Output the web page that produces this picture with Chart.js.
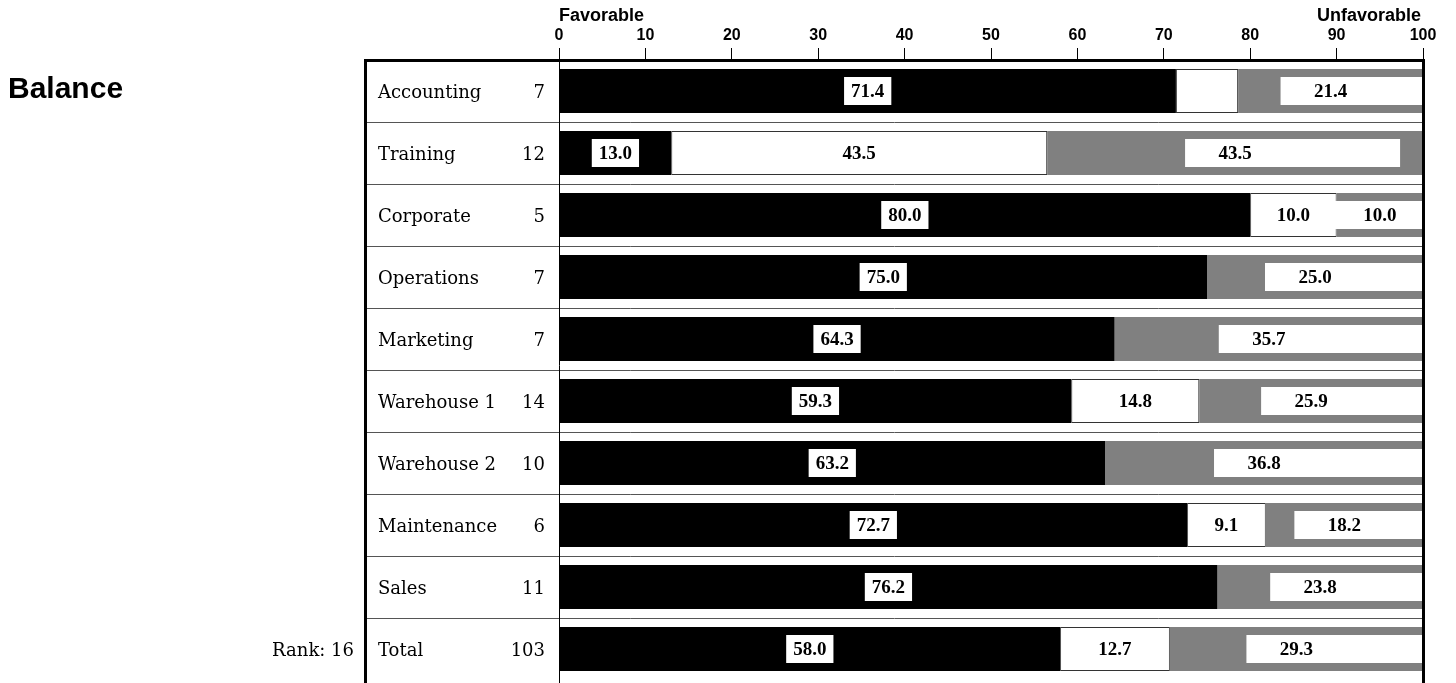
<!DOCTYPE html>
<html>
<head>
<meta charset="utf-8">
<script src="https://cdn.jsdelivr.net/npm/chart.js@4/dist/chart.umd.min.js"></script>
<style>
  html, body { margin: 0; padding: 0; background: #fff; }
  canvas { display: block; }
</style>
</head>
<body>
<canvas id="balanceChart" width="1456" height="683"></canvas>
<script>
const departments = ["Accounting", "Training", "Corporate", "Operations", "Marketing",
  "Warehouse 1", "Warehouse 2", "Maintenance", "Sales", "Total"];
const counts = [7, 12, 5, 7, 7, 14, 10, 6, 11, 103];
const favorable = [71.4, 13.0, 80.0, 75.0, 64.3, 59.3, 63.2, 72.7, 76.2, 58.0];
const neutral = [7.2, 43.5, 10.0, 0, 0, 14.8, 0, 9.1, 0, 12.7];
const unfavorable = [21.4, 43.5, 10.0, 25.0, 35.7, 25.9, 36.8, 18.2, 23.8, 29.3];
const xTicks = [0, 10, 20, 30, 40, 50, 60, 70, 80, 90, 100];

const SANS = "'Liberation Sans', Arial, sans-serif";
const SERIF = "'DejaVu Serif', serif";
const VALUE_FONT = "bold 19px 'Liberation Serif', serif";

// table, frame and captions around the bars
const framePlugin = {
  id: "frame",
  beforeDatasetsDraw(chart) {
    const { ctx, chartArea, scales } = chart;
    const y = scales.y;
    ctx.save();
    ctx.strokeStyle = "#555";
    ctx.lineWidth = 1;
    for (let i = 1; i < departments.length; i++) {
      const yy = Math.round((y.getPixelForValue(i - 1) + y.getPixelForValue(i)) / 2) + 0.5;
      ctx.beginPath();
      ctx.moveTo(366, yy);
      ctx.lineTo(chartArea.right, yy);
      ctx.stroke();
    }
    ctx.restore();
  },
  afterDraw(chart) {
    const { ctx, chartArea, scales } = chart;
    const y = scales.y;
    const x0 = Math.round(scales.x.getPixelForValue(0)) + 0.5;
    ctx.save();
    // zero line
    ctx.strokeStyle = "#000";
    ctx.lineWidth = 1;
    ctx.beginPath();
    ctx.moveTo(x0, 48);
    ctx.lineTo(x0, 683);
    ctx.stroke();
    // thick frame
    ctx.fillStyle = "#000";
    ctx.fillRect(364, chartArea.top - 1, chartArea.right + 2 - 364, 3);
    ctx.fillRect(364, chartArea.top - 1, 3, 683 - chartArea.top + 1);
    ctx.fillRect(chartArea.right - 1, chartArea.top - 1, 3, 683 - chartArea.top + 1);

    // table text
    ctx.textBaseline = "alphabetic";
    ctx.font = "18px " + SERIF;
    departments.forEach((d, i) => {
      const cy = y.getPixelForValue(i);
      ctx.textAlign = "left";
      ctx.fillText(d, 378, cy + 7);
      ctx.textAlign = "right";
      ctx.fillText(String(counts[i]), 545, cy + 7);
    });
    ctx.font = "18px " + SERIF;
    ctx.textAlign = "right";
    ctx.fillText("Rank: 16", 354, y.getPixelForValue(departments.length - 1) + 7);

    // captions
    ctx.font = "bold 30px " + SANS;
    ctx.textAlign = "left";
    ctx.fillText("Balance", 8, 98);
    ctx.font = "bold 18px " + SANS;
    ctx.fillText("Favorable", 559, 21);
    ctx.textAlign = "right";
    ctx.fillText("Unfavorable", 1421, 21);
    ctx.restore();
  }
};

// white value boxes on the segments
const valueLabels = {
  id: "valueLabels",
  afterDatasetsDraw(chart) {
    const { ctx, chartArea } = chart;
    ctx.save();
    ctx.font = VALUE_FONT;
    ctx.textAlign = "center";
    ctx.textBaseline = "middle";
    const boxH = 28;

    chart.getDatasetMeta(2).data.forEach((bar, i) => {
      const v = unfavorable[i];
      if (!v) return;
      const cx = (bar.x + bar.base) / 2;
      const left = cx - 50;
      const right = Math.min(chartArea.right, cx + 165);
      ctx.fillStyle = "#fff";
      ctx.fillRect(left, bar.y - boxH / 2, right - left, boxH);
      ctx.fillStyle = "#000";
      ctx.fillText(v.toFixed(1), cx, bar.y + 1);
    });

    chart.getDatasetMeta(0).data.forEach((bar, i) => {
      const v = favorable[i];
      const cx = (bar.x + bar.base) / 2;
      const t = v.toFixed(1);
      const w = ctx.measureText(t).width + 14;
      ctx.fillStyle = "#fff";
      ctx.fillRect(cx - w / 2, bar.y - boxH / 2, w, boxH);
      ctx.fillStyle = "#000";
      ctx.fillText(t, cx, bar.y + 1);
    });

    chart.getDatasetMeta(1).data.forEach((bar, i) => {
      const v = neutral[i];
      if (!v || v < 8) return;
      const cx = (bar.x + bar.base) / 2;
      ctx.fillStyle = "#000";
      ctx.fillText(v.toFixed(1), cx, bar.y + 1);
    });
    ctx.restore();
  }
};

new Chart(document.getElementById("balanceChart").getContext("2d"), {
  type: "bar",
  data: {
    labels: departments,
    datasets: [
      { label: "Favorable", data: favorable, backgroundColor: "#000", borderWidth: 0 },
      { label: "Neutral", data: neutral.map(v => v || null), backgroundColor: "#fff",
        borderColor: "#333", borderWidth: 1, borderSkipped: false },
      { label: "Unfavorable", data: unfavorable, backgroundColor: "#808080", borderWidth: 0 }
    ]
  },
  options: {
    indexAxis: "y",
    responsive: false,
    animation: false,
    events: [],
    layout: { padding: { left: 559, right: 33, top: 0, bottom: 3 } },
    datasets: { bar: { barPercentage: 0.71, categoryPercentage: 1 } },
    scales: {
      x: {
        position: "top",
        stacked: true,
        min: 0,
        max: 100,
        afterBuildTicks: s => { s.ticks = xTicks.map(v => ({ value: v })); },
        afterFit: s => { s.height = 60; },
        ticks: {
          color: "#000",
          padding: 3,
          font: { family: SANS, size: 16, weight: "bold" }
        },
        grid: { drawOnChartArea: false, tickLength: 12, color: "#000", lineWidth: 1 },
        border: { display: false }
      },
      y: {
        stacked: true,
        display: false
      }
    },
    plugins: {
      legend: { display: false },
      tooltip: { enabled: false }
    }
  },
  plugins: [framePlugin, valueLabels]
});
</script>
</body>
</html>
